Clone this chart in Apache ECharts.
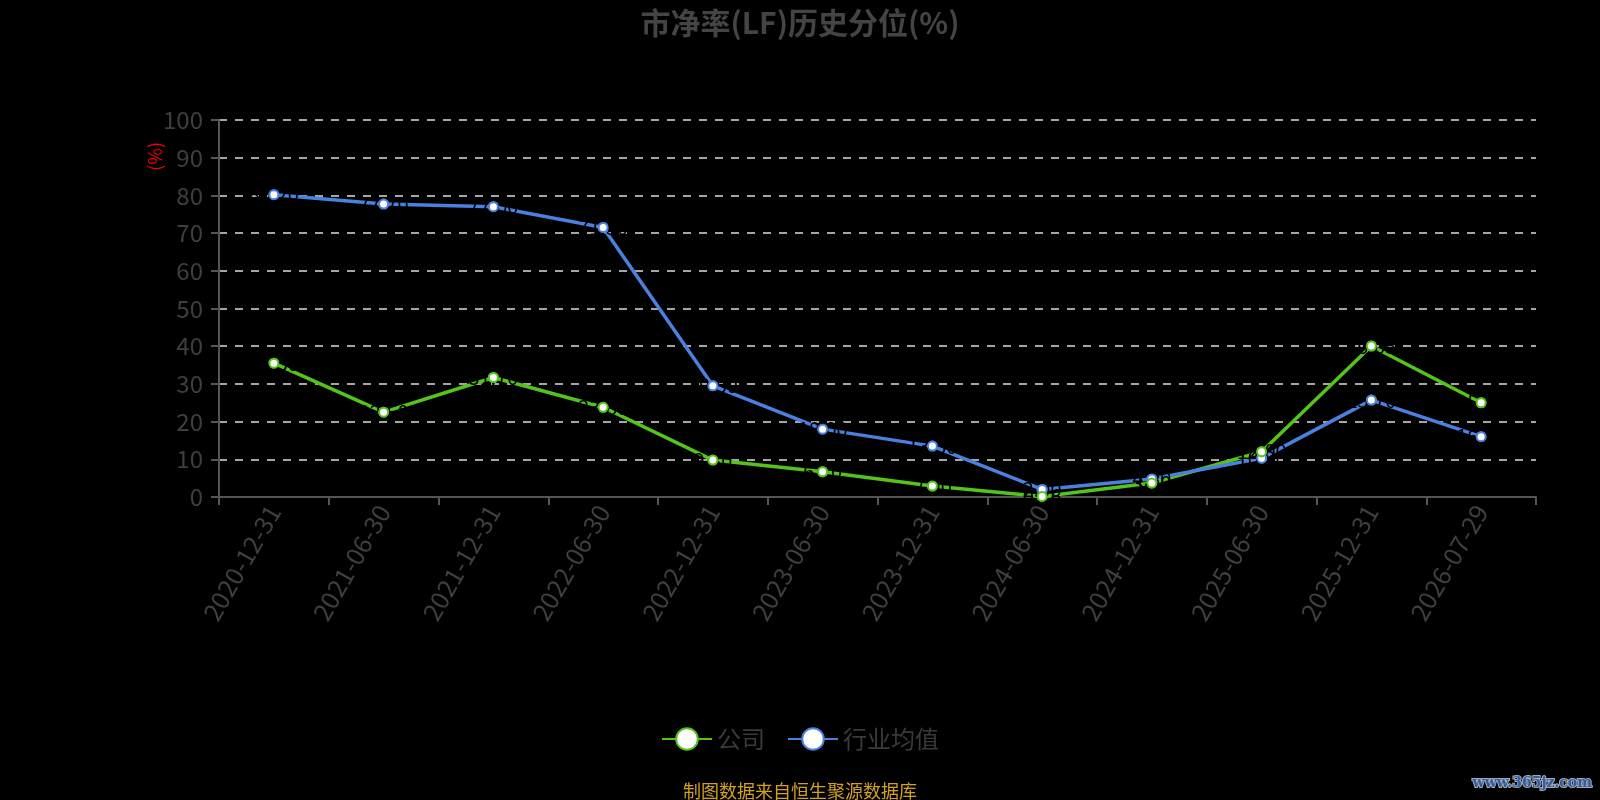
<!DOCTYPE html>
<html><head><meta charset="utf-8">
<script src="https://cdn.jsdelivr.net/npm/echarts@6/dist/echarts.min.js"></script>
<style>html,body{margin:0;padding:0;background:#000;}#c{width:1600px;height:800px;}</style>
</head><body><div id="c"></div>
<script>
const categories = ['2020-12-31','2021-06-30','2021-12-31','2022-06-30','2022-12-31','2023-06-30','2023-12-31','2024-06-30','2024-12-31','2025-06-30','2025-12-31','2026-07-29'];
const companyValues = [35.5, 22.5, 31.7, 23.8, 9.8, 6.7, 2.9, 0.16, 3.7, 12.0, 40.05, 25.0];
const industryValues = [80.2, 77.7, 77.0, 71.5, 29.5, 18.0, 13.5, 2.0, 4.8, 10.3, 25.7, 16.0];
const seriesNames = ['公司', '行业均值'];
const seriesColors = ['#52c41a', '#4a80e0'];
const FONT = '"Microsoft YaHei","Noto Sans CJK SC","Open Sans",sans-serif';
const chart = echarts.init(document.getElementById('c'));

function lineSeries(name, data, color) {
  return {name:name, type:'line', data:data, symbol:'circle', symbolSize:9, z:2,
    itemStyle:{color:'#fff', borderColor:color, borderWidth:2},
    lineStyle:{color:color, width:3.5}, label:{show:false}};
}
function labelSeries(name, data) {
  return {name:name + '_label', type:'line', data:data, symbol:'circle', symbolSize:2, z:3,
    itemStyle:{color:'rgba(0,0,0,0)', borderWidth:0}, lineStyle:{width:0, opacity:0},
    label:{show:true, position:'inside', color:'#000', fontSize:20, fontFamily:FONT,
      formatter:p => Number(p.value).toFixed(2)}};
}
function symbolSeries(name, data, color) {
  return {name:name + '_sym', type:'line', data:data, symbol:'circle', symbolSize:9, z:4,
    itemStyle:{color:'#fff', borderColor:color, borderWidth:2},
    lineStyle:{width:0, opacity:0}, label:{show:false}};
}

chart.setOption({
  backgroundColor:'#000',
  animation:false,
  title:[{text:'市净率(LF)历史分位(%)', left:'center', top:3,
    textStyle:{color:'#444', fontSize:30, fontWeight:'bold', fontFamily:FONT}},
    {text:'制图数据来自恒生聚源数据库', left:'center', top:777,
    textStyle:{color:'#d4a024', fontSize:18, fontWeight:'normal', fontFamily:FONT}}],
  legend:{bottom:44, left:'center', itemWidth:50, itemHeight:27, itemGap:22,
    textStyle:{color:'#3a3a3a', fontSize:24, fontFamily:FONT}, data:seriesNames},
  grid:{left:219, right:64, top:120, bottom:303},
  xAxis:{type:'category', data:categories, boundaryGap:true,
    axisLine:{lineStyle:{color:'#555', width:2}},
    axisTick:{show:true, length:8, lineStyle:{color:'#555', width:2}},
    axisLabel:{rotate:60, color:'#3f3f3f', fontSize:25, fontFamily:FONT, margin:10}},
  yAxis:{type:'value', min:0, max:100, interval:10,
    axisLine:{show:true, lineStyle:{color:'#555', width:2}},
    axisTick:{show:true, length:8, lineStyle:{color:'#555', width:2}},
    axisLabel:{color:'#3f3f3f', fontSize:24, fontFamily:FONT, margin:16},
    splitLine:{lineStyle:{color:'#ddd', type:[8,8], width:1.5}}},
  graphic:[
    {type:'text', left:146, top:142, rotation:Math.PI/2, style:{text:'(%)', fill:'#e00', fontSize:18, fontFamily:FONT}},
    {type:'text', right:7, bottom:9, style:{text:'www.365jz.com', fill:'#2a5db0', stroke:'#aaa', lineWidth:2, fontSize:14, fontWeight:'bold', fontFamily:'"DejaVu Serif",serif'}}
  ],
  series:[
    lineSeries(seriesNames[0], companyValues, seriesColors[0]),
    lineSeries(seriesNames[1], industryValues, seriesColors[1]),
    labelSeries(seriesNames[0], companyValues),
    labelSeries(seriesNames[1], industryValues),
    symbolSeries(seriesNames[1], industryValues, seriesColors[1]),
    symbolSeries(seriesNames[0], companyValues, seriesColors[0])
  ]
});
</script></body></html>
